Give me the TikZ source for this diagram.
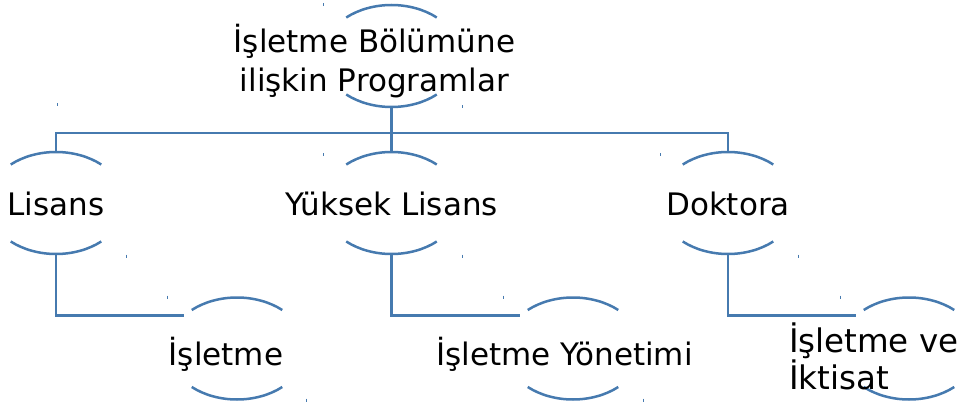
\documentclass[tikz,border=0pt]{standalone}
\usepackage{fontspec}
\setmainfont{DejaVu Sans}
\usetikzlibrary{shapes.geometric,calc}
\definecolor{lineblue}{RGB}{70,122,175}
\tikzset{
  oval/.style={ellipse,minimum width=138pt,minimum height=102pt,inner sep=0pt,outer sep=0pt},
  conn/.style={draw=lineblue,line width=2.5pt},
  arcln/.style={draw=lineblue,line width=2.5pt},
  lbl/.style={font=\fontsize{31}{38.5}\selectfont,inner sep=0pt,outer sep=0pt},
  lblbig/.style={font=\fontsize{32.5}{37.5}\selectfont,inner sep=0pt,outer sep=0pt},
  tick/.style={draw=lineblue,line width=0.9pt}
}
\newcommand\ovalarcs[1]{%
  \draw[arcln] ($(#1.center)+(49:69pt and 51pt)$) arc[start angle=49,end angle=131,x radius=69pt,y radius=51pt];
  \draw[arcln] ($(#1.center)+(229:69pt and 51pt)$) arc[start angle=229,end angle=311,x radius=69pt,y radius=51pt];}
\begin{document}
\begin{tikzpicture}[x=1pt,y=-1pt]
\useasboundingbox (0,0) rectangle (961,406);
% ellipse nodes (only arcs visible)
\node[oval] (root) at (391.5,56) {};
\node[oval] (l1a) at (56,203) {};
\node[oval] (l1b) at (391.5,203) {};
\node[oval] (l1c) at (728,203) {};
\node[oval] (l2a) at (237,348.5) {};
\node[oval] (l2b) at (573,348.5) {};
\node[oval] (l2c) at (909,348.5) {};
\foreach \n in {root,l1a,l1b,l1c,l2a,l2b,l2c}{\ovalarcs{\n}}
% connectors
\coordinate (bus) at (391.5,133);
\draw[conn] (root.south) -- (bus);
\draw[conn] (l1a.north) |- (bus) -| (l1c.north);
\draw[conn] (bus) -- (l1b.north);
\draw[conn] (l1a.south) |- (l2a.148);
\draw[conn] (l1b.south) |- (l2b.148);
\draw[conn] (l1c.south) |- (l2c.148);
% labels
\node[lbl,align=center] (troot) at (374.5,61) {İşletme Bölümüne\\ilişkin Programlar};
\node[lbl,anchor=base] (ta) at (56,215) {Lisans};
\node[lbl,anchor=base] (tb) at (391.5,215) {Yüksek Lisans};
\node[lbl,anchor=base] (tc) at (728,215) {Doktora};
\node[lbl,anchor=base] (td) at (226,365) {İşletme};
\node[lbl,anchor=base] (te) at (564.5,365) {İşletme Yönetimi};
\node[lblbig,align=left,anchor=west] (tf) at (789,356.5) {İşletme ve\\İktisat};
% small corner marks
\foreach \p in {(323,5),(462,107),(57,105),(323,155),(660,155),(126,256),(462,256),(798,256),(167,297),(503,297),(840,297),(306,400),(643,400)}
  {\draw[tick] \p ++(0,-1.5) -- ++(0,3);}
\end{tikzpicture}
\end{document}
